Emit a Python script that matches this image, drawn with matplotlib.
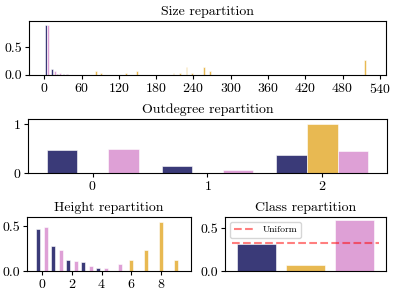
import matplotlib
matplotlib.use("Agg")
import matplotlib.pyplot as plt
import numpy as np

plt.rcParams['font.family'] = ['cmr10', 'DejaVu Serif']
plt.rcParams['mathtext.fontset'] = 'cm'
plt.rcParams['axes.formatter.use_mathtext'] = True
plt.rcParams['font.size'] = 10

NAVY = "#3a3a78"
GOLD = "#e8b952"
PINK = "#dea0d6"

# Size repartition
size_navy_x = [2.5, 12, 21, 31, 36]
size_navy_y = [0.89, 0.097, 0.02, 0.008, 0.005]
size_pink_x = [6.5, 17, 26, 36]
size_pink_y = [0.89, 0.06, 0.025, 0.01]
size_gold_x = [83, 92, 131, 150, 208, 219, 229, 238, 257, 267, 516]
size_gold_y = [0.068, 0.032, 0.032, 0.07, 0.032, 0.032, 0.148, 0.032, 0.148, 0.068, 0.27]
size_ticks = [0, 60, 120, 180, 240, 300, 360, 420, 480, 540]

# Outdegree repartition
out_cats = [0, 1, 2]
out_navy = [0.48, 0.155, 0.37]
out_gold = [0.0, 0.0, 1.0]
out_pink = [0.50, 0.06, 0.45]

# Height repartition
height_cats = [0, 1, 2, 3, 4, 5, 6, 7, 8, 9]
height_navy = [0.47, 0.28, 0.12, 0.10, 0.03, 0, 0, 0, 0, 0]
height_gold = [0, 0, 0, 0, 0, 0, 0.12, 0.23, 0.54, 0.12]
height_pink = [0.49, 0.23, 0.11, 0.05, 0.03, 0.08, 0, 0, 0, 0]
height_ticks = [0, 2, 4, 6, 8]

# Class repartition
class_vals = [0.32, 0.07, 0.60]
uniform = 1 / 3

fig = plt.figure(figsize=(3.99, 2.96), dpi=100)
W, H = 399, 296

def axes_px(l, r, t, b):
    return fig.add_axes([l / W, 1 - b / H, (r - l) / W, (b - t) / H])

ax1 = axes_px(29.3, 386, 20.7, 74.7)
ax2 = axes_px(28.3, 386.7, 119, 173.3)
ax3 = axes_px(27.3, 190.7, 216.7, 271)
ax4 = axes_px(225, 386, 216.7, 271)

ekw = dict(edgecolor="white", linewidth=0.4)

# Size
bw = 3.0
ax1.bar(size_navy_x, size_navy_y, width=bw, color=NAVY, **ekw)
ax1.bar(size_pink_x, size_pink_y, width=bw, color=PINK, **ekw)
ax1.bar(size_gold_x, size_gold_y, width=bw, color=GOLD, **ekw)
ax1.set_xlim(-24, 550)
ax1.set_ylim(0, 0.976)
ax1.set_xticks(size_ticks)
ax1.set_yticks([0.0, 0.5])
ax1.set_yticklabels(["0.0", "0.5"])
ax1.set_title("Size repartition", fontsize=10, pad=4)

# Outdegree
w = 0.8 / 3
x = np.array(out_cats)
ax2.bar(x - w, out_navy, width=w, color=NAVY, **ekw)
ax2.bar(x, out_gold, width=w, color=GOLD, **ekw)
ax2.bar(x + w, out_pink, width=w, color=PINK, **ekw)
ax2.set_xlim(-0.56, 2.56)
ax2.set_ylim(0, 1.1)
ax2.set_xticks(out_cats)
ax2.set_yticks([0, 1])
ax2.set_title("Outdegree repartition", fontsize=10, pad=4)

# Height
x = np.array(height_cats)
ax3.bar(x - w, height_navy, width=w, color=NAVY, **ekw)
ax3.bar(x, height_gold, width=w, color=GOLD, **ekw)
ax3.bar(x + w, height_pink, width=w, color=PINK, **ekw)
ax3.set_xlim(-0.975, 9.975)
ax3.set_ylim(0, 0.603)
ax3.set_xticks(height_ticks)
ax3.set_yticks([0.0, 0.5])
ax3.set_yticklabels(["0.0", "0.5"])
ax3.set_title("Height repartition", fontsize=10, pad=4)

# Class
ax4.bar([0, 1, 2], class_vals, width=0.8, color=[NAVY, GOLD, PINK], **ekw)
ax4.plot([-0.5, 2.5], [uniform, uniform], linestyle="--", color="red", alpha=0.5,
         linewidth=1.5, label="Uniform")
ax4.set_xlim(-0.65, 2.65)
ax4.set_ylim(0, 0.636)
ax4.set_xticks([])
ax4.set_yticks([0.0, 0.5])
ax4.set_yticklabels(["0.0", "0.5"])
ax4.set_title("Class repartition", fontsize=10, pad=4)
ax4.legend(loc="upper left", fontsize=7, handlelength=2.2, borderpad=0.4,
           framealpha=0.8, fancybox=True)

for ax in (ax1, ax2, ax3, ax4):
    ax.tick_params(labelsize=10, length=3, width=0.8, pad=2)
    for s in ax.spines.values():
        s.set_linewidth(0.8)

fig.savefig("out.png", dpi=100)
